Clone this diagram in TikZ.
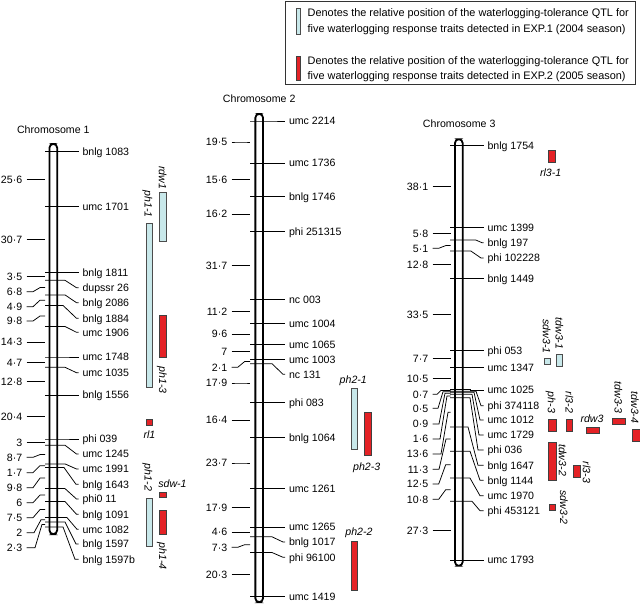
\documentclass[tikz,border=0pt]{standalone}
\usepackage{fontspec}
\setmainfont{Liberation Sans}
\definecolor{qcyan}{RGB}{200,232,234}
\definecolor{qred}{RGB}{228,34,38}
\newcommand\lbf{\fontsize{10.6}{12.7}\selectfont}
\newcommand\lgf{\fontsize{10.9}{13}\selectfont}
\tikzset{
  tk/.style={line width=0.75pt, black},
  rlab/.style={anchor=west, inner xsep=3.8pt, inner ysep=0pt, text height=7.6pt, text depth=0pt, font=\lbf},
  llab/.style={anchor=east, inner xsep=4.3pt, inner ysep=0pt, text height=7.6pt, text depth=0pt, font=\lbf},
  chrom/.style={draw, line width=1.8pt, fill=white, rounded corners=3.85pt, minimum width=7.7pt, inner sep=0pt},
  qc/.style={draw=black!70, line width=0.7pt, fill=qcyan},
  qr/.style={draw=black!75, line width=0.7pt, fill=qred},
  qlab/.style={inner sep=0pt, text height=7.6pt, text depth=0pt, font=\lbf\itshape},
  qrot/.style={qlab, rotate=-90},
  ctitle/.style={inner sep=0pt, text height=7.6pt, text depth=0pt, font=\lbf},
  legtext/.style={anchor=west, inner sep=0pt, text height=7.8pt, text depth=0pt, font=\lgf}
}
% right marker: y, label y, xa, xb, name, text
\newcommand\mkR[6]{%
  \node[rlab] (#5) at (\Re,#2) {#6};
  \coordinate (#5t) at (\Rs,#1);
  \draw[tk] (#5t) -- (#3,#1) -- (#4,#2) -- (#5.west);}
% left interval: label y, mid y, xa, xb, name, text
\newcommand\mkL[6]{%
  \node[llab] (#5) at (\Ls,#1) {#6};
  \coordinate (#5t) at (\Le,#2);
  \draw[tk] (#5.east) -- (#3,#1) -- (#4,#2) -- (#5t);}
\begin{document}
\begin{tikzpicture}[x=1pt,y=-1pt]
\useasboundingbox (0,0) rectangle (640,606);
% legend
\draw[line width=0.8pt, black!80] (285,1) rectangle (635,84);
\draw[qc] (296.7,8) rectangle (300.7,34);
\draw[qr] (296.7,56) rectangle (300.7,80);
\node[legtext] (lg1) at (307.5,13) {Denotes the relative position of the waterlogging-tolerance QTL for};
\node[legtext] (lg2) at (307.5,28.5) {five waterlogging response traits detected in EXP.1 (2004 season)};
\node[legtext] (lg3) at (307.5,60.5) {Denotes the relative position of the waterlogging-tolerance QTL for};
\node[legtext] (lg4) at (307.5,76) {five waterlogging response traits detected in EXP.2 (2005 season)};
% chromosome titles
\node[ctitle] (t1) at (53.3,130) {Chromosome 1};
\node[ctitle] (t2) at (259.2,99) {Chromosome 2};
\node[ctitle] (t3) at (459.2,124) {Chromosome 3};
% chromosome bars
\node[chrom, minimum height=390.2pt] (chr1) at (53.3,339) {};
\node[chrom, minimum height=488.2pt] (chr2) at (259.2,358) {};
\node[chrom, minimum height=426.6pt] (chr3) at (458.8,352.5) {};
% ---------------- Chromosome 1
\def\Rs{45}\def\Re{78.5}\def\Ls{26.7}\def\Le{45}
\mkR{151.7}{151.7}{60}{60}{a1}{bnlg 1083}
\mkR{206.7}{206.7}{60}{60}{a2}{umc 1701}
\mkR{272.7}{272.7}{60}{60}{a3}{bnlg 1811}
\mkR{280.3}{287.7}{65}{76.5}{a4}{dupssr 26}
\mkR{294.9}{302.7}{65}{76.5}{a5}{bnlg 2086}
\mkR{305.4}{318.3}{63}{76.5}{a6}{bnlg 1884}
\mkR{326.5}{332.3}{65}{76.5}{a7}{umc 1906}
\mkR{357}{357}{60}{60}{a8}{umc 1748}
\mkR{367.3}{372.7}{65}{76.5}{a9}{umc 1035}
\mkR{394.9}{394.9}{60}{60}{a10}{bnlg 1556}
\mkR{439}{439}{60}{60}{a11}{phi 039}
\mkR{445.2}{454}{65}{76.5}{a12}{umc 1245}
\mkR{463.9}{469}{65}{76.5}{a13}{umc 1991}
\mkR{467.5}{484.3}{64}{76}{a14}{bnlg 1643}
\mkR{488.6}{499}{65}{76.5}{a15}{phi0 11}
\mkR{501.5}{514.3}{65}{76.5}{a16}{bnlg 1091}
\mkR{517.6}{529.3}{67}{77}{a17}{umc 1082}
\mkR{521.9}{544}{65}{76}{a18}{bnlg 1597}
\mkR{526.9}{559.3}{63}{75}{a19}{bnlg 1597b}
\mkL{179.2}{179.2}{33}{40}{b1}{25·6}
\mkL{239.7}{239.7}{33}{40}{b2}{30·7}
\mkL{276.3}{276.3}{33}{40}{b3}{3·5}
\mkL{291.7}{287.6}{33}{40}{b4}{6·8}
\mkL{306.7}{300.2}{33}{40}{b5}{4·9}
\mkL{321}{316}{33}{40}{b6}{9·8}
\mkL{341.9}{341.9}{33}{40}{b7}{14·3}
\mkL{362.5}{362.5}{33}{40}{b8}{4·7}
\mkL{381.4}{381.4}{33}{40}{b9}{12·8}
\mkL{416.8}{416.8}{33}{40}{b10}{20·4}
\mkL{442.3}{442.3}{33}{40}{b11}{3}
\mkL{457.3}{454.6}{33}{40}{b12}{8·7}
\mkL{472.7}{465.7}{33}{40}{b13}{1·7}
\mkL{487.7}{478.1}{33}{40}{b14}{9·8}
\mkL{502.7}{495.1}{33}{40}{b15}{6}
\mkL{517.7}{509.6}{33}{40}{b16}{7·5}
\mkL{532.7}{519.8}{34}{41}{b17}{2}
\mkL{547.7}{524.4}{35}{42}{b18}{2·3}
% QTL chromosome 1
\draw[qc] (159.3,192.7) rectangle (166,241);
\node[qrot] (q1a) at (162.7,177.5) {rdw1};
\draw[qc] (146.7,223.3) rectangle (152.7,387.7);
\node[qrot] (q1b) at (148.3,204) {ph1-1};
\draw[qr] (159.3,315) rectangle (166,357.3);
\node[qrot] (q1c) at (163,380) {ph1-3};
\draw[qr] (146.7,419) rectangle (152.7,425);
\node[qlab] (q1d) at (149.5,435) {rl1};
\node[qrot] (q1e) at (148.3,477.5) {ph1-2};
\draw[qc] (146.7,498.3) rectangle (152.7,546.7);
\node[qlab] (q1f) at (172.5,483.3) {sdw-1};
\draw[qr] (159.3,492.7) rectangle (166,497.7);
\draw[qr] (159.3,510.7) rectangle (166,534.3);
\node[qrot] (q1g) at (163,556) {ph1-4};
% ---------------- Chromosome 2
\def\Rs{250}\def\Re{285}\def\Ls{231.7}\def\Le{250}
\mkR{121}{121}{270}{270}{c1}{umc 2214}
\mkR{162.9}{162.9}{270}{270}{c2}{umc 1736}
\mkR{196.5}{196.5}{270}{270}{c3}{bnlg 1746}
\mkR{231.3}{231.3}{270}{270}{c4}{phi 251315}
\mkR{299.5}{299.5}{270}{270}{c5}{nc 003}
\mkR{323.5}{323.5}{270}{270}{c6}{umc 1004}
\mkR{344.2}{344.2}{270}{270}{c7}{umc 1065}
\mkR{359.2}{359.2}{270}{270}{c8}{umc 1003}
\mkR{363.7}{374.3}{272}{283}{c9}{nc 131}
\mkR{402.2}{402.2}{270}{270}{c10}{phi 083}
\mkR{437.5}{437.5}{270}{270}{c11}{bnlg 1064}
\mkR{488.4}{488.4}{270}{270}{c12}{umc 1261}
\mkR{526.9}{526.9}{270}{270}{c13}{umc 1265}
\mkR{536.8}{542}{272}{283}{c14}{bnlg 1017}
\mkR{552.5}{557.3}{272}{283}{c15}{phi 96100}
\mkR{596.2}{596.2}{270}{270}{c16}{umc 1419}
\mkL{142}{142}{237.7}{244.7}{d1}{19·5}
\mkL{179.7}{179.7}{237.7}{244.7}{d2}{15·6}
\mkL{213.9}{213.9}{237.7}{244.7}{d3}{16·2}
\mkL{265.4}{265.4}{237.7}{244.7}{d4}{31·7}
\mkL{311.5}{311.5}{237.7}{244.7}{d5}{11·2}
\mkL{333.9}{333.9}{237.7}{244.7}{d6}{9·6}
\mkL{351.7}{351.7}{237.7}{244.7}{d7}{7}
\mkL{367.3}{361.5}{237.7}{244.7}{d8}{2·1}
\mkL{383}{383}{237.7}{244.7}{d9}{17·9}
\mkL{419.9}{419.9}{237.7}{244.7}{d10}{16·4}
\mkL{463}{463}{237.7}{244.7}{d11}{23·7}
\mkL{507.7}{507.7}{237.7}{244.7}{d12}{17·9}
\mkL{531.9}{531.9}{237.7}{244.7}{d13}{4·6}
\mkL{547.3}{544.7}{237.7}{244.7}{d14}{7·3}
\mkL{574.7}{574.7}{237.7}{244.7}{d15}{20·3}
% QTL chromosome 2
\node[qlab] (q2a) at (353.3,380) {ph2-1};
\draw[qc] (351.7,388.3) rectangle (357.7,449.3);
\draw[qr] (364,412.7) rectangle (371,455.7);
\node[qlab] (q2b) at (366.7,466.7) {ph2-3};
\node[qlab] (q2c) at (359,531.7) {ph2-2};
\draw[qr] (351.7,541) rectangle (357.7,590);
% ---------------- Chromosome 3
\def\Rs{450}\def\Re{483.5}\def\Ls{432.7}\def\Le{450.5}
\mkR{145.7}{145.7}{470}{470}{e1}{bnlg 1754}
\mkR{227.6}{227.6}{470}{470}{e2}{umc 1399}
\mkR{240.1}{242.7}{476}{482}{e3}{bnlg 197}
\mkR{251.1}{258}{471}{481}{e4}{phi 102228}
\mkR{278.6}{278.6}{470}{470}{e5}{bnlg 1449}
\mkR{350.6}{350.6}{470}{470}{e6}{phi 053}
\mkR{367.2}{367.2}{470}{470}{e7}{umc 1347}
\mkR{389.7}{390}{470}{470}{e8}{umc 1025}
\mkR{391.2}{405.7}{476}{481}{e9}{phi 374118}
\mkR{392.3}{420}{474}{480}{e10}{umc 1012}
\mkR{394.2}{435}{472}{479}{e11}{umc 1729}
\mkR{397.7}{450}{470}{478}{e12}{phi 036}
\mkR{426.9}{465.3}{468}{478}{e13}{bnlg 1647}
\mkR{451.2}{480.3}{470}{480}{e14}{bnlg 1144}
\mkR{478.1}{495.7}{470}{480}{e15}{umc 1970}
\mkR{501.3}{510.7}{472}{480}{e16}{phi 453121}
\mkR{560}{560}{470}{470}{e17}{umc 1793}
\mkL{186.8}{186.8}{438.7}{445.7}{f1}{38·1}
\mkL{233.5}{233.5}{438.7}{445.7}{f2}{5·8}
\mkL{248.3}{245.6}{438.7}{445.7}{f3}{5·1}
\mkL{264.6}{264.6}{438.7}{445.7}{f4}{12·8}
\mkL{314.5}{314.5}{438.7}{445.7}{f5}{33·5}
\mkL{358.6}{358.6}{438.7}{445.7}{f6}{7·7}
\mkL{378.4}{378.4}{438.7}{445.7}{f7}{10·5}
\mkL{394.3}{390.4}{437}{441}{f8}{0·7}
\mkL{408.3}{391.7}{438}{443}{f9}{0·5}
\mkL{424}{393.2}{439}{445}{f10}{0·9}
\mkL{439}{395.9}{440}{447}{f11}{1·6}
\mkL{454}{412.3}{441}{448}{f12}{13·6}
\mkL{469.3}{439}{439}{446}{f13}{11·3}
\mkL{484}{464.7}{438.7}{445.7}{f14}{12·5}
\mkL{499.3}{489.7}{438.7}{445.7}{f15}{10·8}
\mkL{530.8}{530.8}{438.7}{445.7}{f16}{27·3}
% QTL chromosome 3
\draw[qr] (548.3,150) rectangle (555.7,162);
\node[qlab] (q3a) at (550.7,172.7) {rl3-1};
\draw[qc] (544.3,358.3) rectangle (550.3,364);
\node[qrot] (q3b) at (546.7,336.5) {sdw3-1};
\draw[qc] (556.7,354.3) rectangle (562.7,366);
\node[qrot] (q3c) at (559.3,333.5) {tdw3-1};
\draw[qr] (548.3,419.3) rectangle (556,431);
\node[qrot] (q3d) at (551.7,402.5) {ph-3};
\draw[qr] (566,419.3) rectangle (572.7,431);
\node[qrot] (q3e) at (569.3,402.5) {rl3-2};
\draw[qr] (586,427.3) rectangle (599.3,433.3);
\node[qlab] (q3f) at (592,419) {rdw3};
\draw[qr] (612.7,418.3) rectangle (625.7,424.3);
\node[qrot] (q3g) at (618.3,397.5) {tdw3-3};
\draw[qr] (632.7,429.3) rectangle (641,441);
\node[qrot] (q3h) at (635,407.5) {tdw3-4};
\draw[qr] (548.3,442.7) rectangle (556,480);
\node[qrot] (q3i) at (562.7,460) {tdw3-2};
\draw[qr] (573.3,465) rectangle (580.7,477.3);
\node[qrot] (q3j) at (586.7,472.5) {rl3-3};
\draw[qr] (549,504.3) rectangle (555.7,510.7);
\node[qrot] (q3k) at (564,507.5) {sdw3-2};
\end{tikzpicture}
\end{document}
